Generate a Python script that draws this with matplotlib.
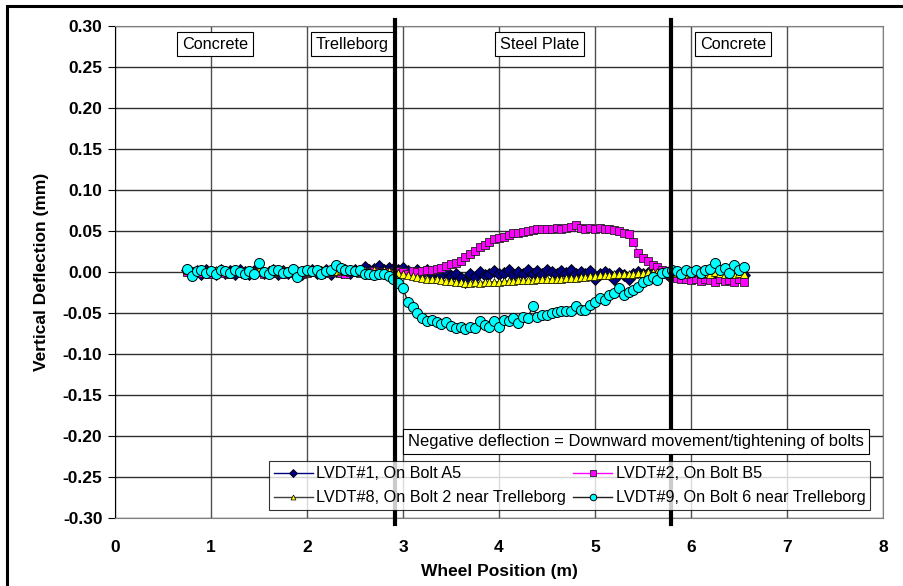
import matplotlib as mpl
mpl.use('Agg')
import matplotlib.pyplot as plt
from matplotlib.patches import Rectangle

plt.rcParams['font.family'] = ['Liberation Sans', 'DejaVu Sans']

# wheel position (m)
pos = [0.75, 0.80, 0.85, 0.90, 0.95, 1.00, 1.05, 1.10, 1.15, 1.20,
       1.25, 1.30, 1.35, 1.40, 1.45, 1.50, 1.55, 1.60, 1.65, 1.70,
       1.75, 1.80, 1.85, 1.90, 1.95, 2.00, 2.05, 2.10, 2.15, 2.20,
       2.25, 2.30, 2.35, 2.40, 2.45, 2.50, 2.55, 2.60, 2.65, 2.70,
       2.75, 2.80, 2.85, 2.90, 2.95, 3.00, 3.05, 3.10, 3.15, 3.20,
       3.25, 3.30, 3.35, 3.40, 3.45, 3.50, 3.55, 3.60, 3.65, 3.70,
       3.75, 3.80, 3.85, 3.90, 3.95, 4.00, 4.05, 4.10, 4.15, 4.20,
       4.25, 4.30, 4.35, 4.40, 4.45, 4.50, 4.55, 4.60, 4.65, 4.70,
       4.75, 4.80, 4.85, 4.90, 4.95, 5.00, 5.05, 5.10, 5.15, 5.20,
       5.25, 5.30, 5.35, 5.40, 5.45, 5.50, 5.55, 5.60, 5.65, 5.70,
       5.75, 5.80, 5.85, 5.90, 5.95, 6.00, 6.05, 6.10, 6.15, 6.20,
       6.25, 6.30, 6.35, 6.40, 6.45, 6.50, 6.55]

lvdt1 = [0.002, -0.001, 0.001, -0.003, 0.002, 0.000, -0.002, 0.003, -0.001, 0.001,
         -0.002, 0.002, 0.000, -0.003, 0.001, 0.002, -0.001, 0.000, 0.003, -0.002,
         0.001, -0.001, 0.002, 0.000, -0.002, 0.001, 0.003, -0.001, 0.000, 0.002,
         -0.002, 0.001, 0.000, 0.002, -0.001, 0.003, 0.001, 0.006, 0.002, 0.004,
         0.007, 0.003, 0.005, 0.004, 0.002, 0.005, 0.001, -0.002, 0.003, -0.001,
         0.002, -0.003, 0.000, -0.004, 0.001, -0.005, -0.002, -0.007, -0.012, -0.003,
         -0.006, 0.000, -0.004, -0.002, 0.001, -0.003, -0.001, 0.002, -0.004, 0.000,
         -0.002, 0.002, -0.003, 0.001, -0.002, 0.002, 0.000, -0.003, 0.001, -0.001,
         0.002, -0.002, 0.000, -0.003, 0.001, -0.008, -0.002, 0.000, -0.003, -0.008,
         -0.001, -0.004, -0.008, -0.002, 0.000, -0.003, -0.001, 0.001, -0.002, 0.000,
         -0.002, -0.003, -0.002, -0.004, -0.003, -0.005, -0.002, -0.004, -0.003, -0.005,
         -0.002, -0.004, -0.003, -0.002, -0.004, -0.003, -0.004]

lvdt2 = [0.000, -0.002, 0.001, -0.001, 0.000, -0.002, 0.001, 0.000, -0.001, -0.003,
         0.000, 0.001, -0.002, 0.000, -0.001, 0.001, -0.002, 0.000, -0.001, 0.000,
         -0.002, 0.001, -0.001, 0.000, -0.002, -0.001, 0.001, 0.000, -0.002, -0.001,
         0.000, 0.001, -0.001, -0.002, 0.000, 0.001, -0.001, 0.000, -0.002, 0.001,
         0.000, -0.001, 0.000, -0.001, 0.001, 0.000, -0.002, 0.001, 0.000, 0.001,
         0.002, 0.003, 0.004, 0.005, 0.007, 0.010, 0.011, 0.014, 0.018, 0.022,
         0.026, 0.030, 0.033, 0.037, 0.040, 0.042, 0.043, 0.045, 0.047, 0.048,
         0.049, 0.050, 0.051, 0.052, 0.052, 0.053, 0.053, 0.054, 0.053, 0.054,
         0.055, 0.057, 0.054, 0.053, 0.054, 0.053, 0.054, 0.053, 0.052, 0.051,
         0.050, 0.048, 0.046, 0.037, 0.023, 0.017, 0.013, 0.008, 0.006, 0.003,
         -0.002, -0.006, -0.007, -0.009, -0.008, -0.010, -0.009, -0.011, -0.008, -0.010,
         -0.012, -0.009, -0.011, -0.010, -0.012, -0.009, -0.012]

lvdt8 = [0.002, 0.001, 0.003, 0.001, 0.002, 0.000, 0.002, 0.001, 0.003, 0.001,
         0.002, 0.001, 0.000, 0.002, 0.001, 0.003, 0.001, 0.002, 0.000, 0.001,
         0.002, 0.001, 0.003, 0.002, 0.001, 0.000, 0.002, 0.001, 0.002, 0.001,
         0.003, 0.001, 0.002, 0.001, 0.002, 0.001, 0.000, 0.002, 0.001, 0.002,
         0.001, 0.002, 0.001, 0.000, -0.001, -0.002, -0.004, -0.005, -0.006, -0.007,
         -0.008, -0.009, -0.009, -0.010, -0.011, -0.011, -0.012, -0.012, -0.013, -0.013,
         -0.012, -0.013, -0.012, -0.012, -0.012, -0.012, -0.011, -0.011, -0.011, -0.010,
         -0.010, -0.010, -0.010, -0.009, -0.009, -0.009, -0.008, -0.008, -0.008, -0.007,
         -0.007, -0.007, -0.006, -0.006, -0.005, -0.005, -0.004, -0.004, -0.004, -0.003,
         -0.003, -0.002, -0.002, -0.002, -0.001, -0.001, 0.000, 0.000, 0.000, 0.001,
         0.000, 0.000, -0.001, 0.000, -0.002, -0.001, 0.000, -0.002, -0.001, -0.002,
         0.000, -0.001, -0.002, -0.001, -0.002, -0.001, -0.002]

lvdt9 = [0.004, -0.005, 0.001, 0.002, -0.001, 0.001, -0.002, 0.003, 0.001, -0.001,
         0.002, 0.000, -0.003, 0.001, -0.002, 0.011, 0.000, -0.003, 0.002, 0.003,
         -0.001, 0.000, 0.004, -0.006, 0.001, 0.002, 0.001, 0.003, -0.002, 0.001,
         0.002, 0.008, 0.005, 0.002, 0.003, 0.001, 0.003, -0.003, -0.002, -0.004,
         -0.002, -0.003, -0.005, -0.009, -0.013, -0.020, -0.036, -0.043, -0.050, -0.056,
         -0.060, -0.059, -0.061, -0.063, -0.061, -0.066, -0.068, -0.067, -0.069, -0.067,
         -0.068, -0.060, -0.065, -0.067, -0.060, -0.067, -0.059, -0.060, -0.056, -0.062,
         -0.055, -0.056, -0.042, -0.055, -0.053, -0.052, -0.050, -0.049, -0.048, -0.048,
         -0.047, -0.041, -0.046, -0.046, -0.040, -0.036, -0.032, -0.034, -0.028, -0.026,
         -0.020, -0.028, -0.024, -0.022, -0.018, -0.012, -0.010, -0.006, -0.010, -0.001,
         0.000, 0.002, 0.001, -0.002, 0.003, 0.000, 0.002, -0.001, 0.003, 0.004,
         0.011, 0.002, 0.005, -0.001, 0.008, 0.003, 0.006]

zone_names = ["Concrete", "Trelleborg", "Steel Plate", "Concrete"]
zone_x = [1.04, 2.47, 4.42, 6.44]
boundaries = [2.92, 5.79]
note = "Negative deflection = Downward movement/tightening of bolts"

fig = plt.figure(figsize=(9.04, 5.86), dpi=100)
ax = fig.add_axes([0.1272, 0.1160, 0.8496, 0.8396])

ax.set_xlim(0, 8)
ax.set_ylim(-0.30, 0.30)
ax.set_xticks(range(0, 9))
ax.set_yticks([i * 0.05 for i in range(-6, 7)])
ax.set_yticklabels(["%.2f" % (i * 0.05) for i in range(-6, 7)])
ax.grid(True, axis='y', color='#303030', linewidth=1.0)
ax.grid(True, axis='x', color='#505050', linewidth=1.0)
ax.set_axisbelow(True)
for s in ['top', 'right', 'bottom']:
    ax.spines[s].set_color('#808080')
ax.spines['left'].set_color('black')
ax.tick_params(axis='y', direction='out', length=5, color='black', labelsize=12.5, pad=4)
ax.tick_params(axis='x', length=0, labelsize=12.5, pad=16)
for lab in ax.get_xticklabels() + ax.get_yticklabels():
    lab.set_fontweight('bold')

ax.set_xlabel("Wheel Position (m)", fontsize=12.5, fontweight='bold', labelpad=6)
ax.set_ylabel("Vertical Deflection (mm)", fontsize=12.5, fontweight='bold', labelpad=10)

h1, = ax.plot(pos, lvdt1, color='#000080', lw=1, marker='D', ms=6.2,
              mfc='#000080', mec='black', mew=0.6, label="LVDT#1, On Bolt A5")
h2, = ax.plot(pos, lvdt2, color='#FF00FF', lw=1, marker='s', ms=6.3,
              mfc='#FF00FF', mec='#202020', mew=0.6, label="LVDT#2, On Bolt B5")
h8, = ax.plot(pos, lvdt8, color='#404040', lw=1, marker='^', ms=5.5,
              mfc='#FFFF00', mec='black', mew=0.5, label="LVDT#8, On Bolt 2 near Trelleborg")
h9, = ax.plot(pos, lvdt9, color='#202020', lw=1, marker='o', ms=7.2,
              mfc='#00FFFF', mec='black', mew=0.7, label="LVDT#9, On Bolt 6 near Trelleborg")

for b in boundaries:
    ax.plot([b, b], [-0.013, 1.013], color='black', lw=3,
            transform=ax.get_xaxis_transform(), clip_on=False, zorder=5)

box = dict(boxstyle='square,pad=0.3', fc='white', ec='black', lw=0.8)
for name, zx in zip(zone_names, zone_x):
    ax.text(zx, 0.278, name, fontsize=11.7, ha='center', va='center', bbox=box, zorder=6)
ax.text(5.43, -0.207, note, fontsize=11.9, ha='center', va='center', bbox=box, zorder=6)

leg = ax.legend(handles=[h1, h8, h2, h9], ncol=2, loc='lower left',
                bbox_to_anchor=(0.2005, 0.016, 0.783, 0.09), mode='expand',
                fontsize=11.7, frameon=True, fancybox=False, borderaxespad=0,
                handlelength=2.4, handletextpad=0.2, labelspacing=0.55,
                borderpad=0.3, markerscale=0.65)
leg.get_frame().set_edgecolor('black')
leg.get_frame().set_linewidth(0.8)
leg.set_zorder(7)

fig.patches.append(Rectangle((7 / 904, -0.05), 1.2, 1.05 - 5.5 / 586,
                             transform=fig.transFigure, fill=False,
                             ec='black', lw=2.2))

fig.savefig("out.png", dpi=100)
